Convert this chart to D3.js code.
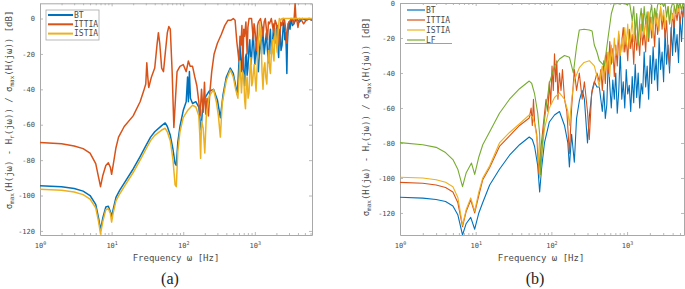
<!DOCTYPE html>
<html><head><meta charset="utf-8">
<script src="https://cdn.jsdelivr.net/npm/d3@7"></script>
<style>body{margin:0;background:#fff}svg{display:block}</style>
</head><body>
<svg id="c" width="685" height="289"></svg>
<script>
// ---------- data ----------
const namesA = ["BT", "ITTIA", "ISTIA"];
const namesB = ["BT", "ITTIA", "ISTIA", "LF"];
const yTickValues = [-120, -100, -80, -60, -40, -20, 0];
const xTickValues = [1, 10, 100, 1000];
const captions = ["(a)", "(b)"];
const xLabel = "Frequency ω [Hz]";

// Panel (a): [frequency Hz, dB]
const btA = [[1,-94.5],[2,-95],[3,-96],[4,-97.5],[5,-100],[6,-105],[6.6,-113],[7,-119.5],[7.5,-113],[8.3,-106.5],[9,-106],[9.6,-109],[10,-112],[10.5,-108],[11.5,-101],[13,-97],[15,-93],[20,-85],[25,-78],[30,-72],[35,-67],[40,-64],[50,-60.5],[56,-59],[60,-61],[66,-66],[72,-74],[77,-82],[80,-83],[84,-70],[90,-61],[100,-52],[110,-47],[115,-33],[118,-47],[122,-30],[126,-45],[135,-48],[150,-47],[165,-50],[172,-58],[178,-63],[185,-52],[200,-45],[230,-41],[265,-40],[300,-46],[330,-56],[360,-43],[400,-33],[454,-28],[500,-31],[540,-38],[570,-43],[600,-25],[620,-15],[650,-30],[680,-18],[700,-33],[720,-38],[740,-22],[760,-20],[780,-32],[800,-28],[830,-16],[850,-12],[880,-26],[900,-22],[930,-12],[950,-8],[980,-20],[1000,-26],[1030,-18],[1050,-14],[1090,-24],[1120,-30],[1160,-18],[1200,-12],[1240,-20],[1280,-5],[1320,-12],[1350,-20],[1400,-14],[1450,-8],[1500,-18],[1550,-25],[1600,-12],[1650,-6],[1700,-20],[1750,-16],[1800,-8],[1850,-3],[1900,-14],[1950,-12],[2000,-6],[2050,-4],[2100,-16],[2150,-22],[2200,-10],[2250,-6],[2320,-18],[2400,-15],[2480,-5],[2550,-2],[2620,-12],[2700,-8],[2750,-18],[2800,-31],[2850,-14],[2900,-8],[3000,-2],[3100,-6],[3200,0],[3350,-4],[3500,-3],[3800,0],[4200,-2],[4600,0],[5200,-1],[5800,0],[6283,-1]];
const ittiaA = [[1,-70],[2,-70.8],[3,-72],[4,-73.5],[5,-76],[6,-82],[6.6,-90],[7,-95],[7.5,-89],[8.3,-83],[9,-81.5],[9.6,-84],[10,-88],[10.5,-83],[11.5,-73],[12.5,-67],[15,-61],[20,-55],[25,-47],[28,-41],[30,-37],[31,-25],[32,-33],[33,-39],[36,-33],[40,-28],[43,-15],[45,-8],[47,-14],[50,-28],[53,-30],[56,-20],[60,-8],[63,-4.5],[66,-6],[70,-30],[74,-61.6],[78,-45],[82,-30],[90,-27],[100,-26],[110,-30],[118,-24],[125,-27],[135,-27],[145,-33],[155,-38],[165,-47],[172,-55],[180,-40],[190,-53],[198,-36],[206,-54],[215,-45],[225,-55],[235,-42],[250,-30],[270,-20],[300,-14],[340,-9],[380,-4],[420,-1],[460,-1],[500,0],[530,-1],[560,-13],[600,-24],[620,-10],[640,-15],[660,-4],[680,-29],[700,-6],[720,-10],[750,-2],[780,-20],[800,-5],[830,0],[900,0],[950,-12],[975,-3],[1000,-6],[1060,-18],[1090,-4],[1120,-2],[1200,0],[1250,-4],[1300,-10],[1350,-2],[1400,0],[1450,-6],[1500,-12],[1550,-2],[1600,-3],[1700,0],[1780,-5],[1850,-8],[1920,-1],[2000,-3],[2100,-8],[2200,-15],[2300,-2],[2400,-4],[2500,0],[2600,-1],[2700,-6],[2800,-14],[2900,-3],[3000,-2],[3300,0],[3500,-3],[3650,8.6],[3750,0],[3900,-2],[4000,-5],[4200,0],[4500,-1],[4800,-3],[5200,-1],[5600,0],[6283,-1]];
const istiaA = [[1,-96.5],[2,-97],[3,-98],[4,-99.5],[5,-102],[6,-107],[6.6,-115],[7,-121.7],[7.5,-115],[8.3,-108],[9,-107.5],[9.6,-110],[10,-115],[10.5,-110],[11.5,-103],[13,-99],[15,-95],[20,-87],[25,-80],[30,-74],[35,-69],[40,-66],[50,-63],[56,-62],[60,-64],[66,-69],[72,-80],[77,-94],[80,-95],[84,-75],[90,-64],[100,-56],[115,-52],[135,-49],[150,-50],[165,-55],[170,-65],[175,-79],[180,-58],[190,-62],[200,-76],[210,-55],[230,-44],[265,-40],[290,-47],[310,-55],[330,-67],[350,-48],[400,-35],[454,-29],[500,-33],[540,-40],[580,-45],[620,-24],[650,-42],[675,-30],[700,-32],[720,-46],[740,-51],[760,-38],[780,-33],[805,-45],[830,-42],[855,-28],[880,-22],[905,-38],[930,-36],[955,-30],[980,-26],[1010,-34],[1040,-41],[1070,-30],[1100,-21],[1130,-12],[1170,-2],[1200,-10],[1230,-16],[1260,-30],[1300,-40],[1340,-28],[1380,-25],[1420,-33],[1470,-37],[1510,-24],[1560,-18],[1600,-27],[1650,-31],[1700,-20],[1750,-12],[1800,-20],[1850,-24],[1900,-10],[1950,-6],[2000,-14],[2050,-19],[2120,-6],[2200,0],[2300,-1],[2400,0],[6283,0]];

// Panel (b): [frequency Hz, dB]
const btB = [[1,-111],[2,-111.5],[3,-112.3],[4,-113.5],[5,-116],[5.8,-121],[6.7,-132.6],[7.5,-126],[8.6,-122.5],[9.7,-129.3],[11,-120],[12.4,-114],[15.3,-104],[20.6,-95],[28,-87],[38,-81],[51,-76.6],[56,-78],[60,-82],[66,-93],[70,-108],[74,-95],[81,-80],[94,-68],[110,-64],[128,-62],[149,-70],[165,-80],[173,-93.7],[185,-75],[201,-91],[215,-66],[234,-56],[255,-50],[273,-55],[300,-80],[317,-65],[345,-50],[369,-45],[400,-48],[430,-48],[450,-55],[471,-62],[493,-50],[516,-66],[540,-58],[565,-32],[591,-47],[619,-60],[648,-44],[678,-55],[709,-40],[742,-63],[777,-50],[813,-28],[851,-55],[890,-45],[932,-60],[975,-38],[1020,-52],[1068,-47],[1117,-62],[1169,-42],[1224,-57],[1281,-35],[1340,-54],[1402,-40],[1468,-60],[1536,-46],[1607,-52],[1682,-28],[1760,-48],[1842,-36],[1928,-55],[2017,-30],[2111,-46],[2209,-25],[2312,-44],[2419,-32],[2532,-50],[2650,-20],[2773,-38],[2902,-28],[3037,-45],[3178,-16],[3326,-35],[3481,-24],[3643,-40],[3812,-14],[3990,-30],[4175,-10],[4369,-28],[4573,-18],[4785,-34],[5008,-8],[5241,-22],[5484,-5],[5650,0]];
const ittiaB = [[1,-102.5],[2,-103],[3,-104],[4,-105.5],[5,-108],[5.8,-114],[6.7,-127.8],[7.5,-119],[8.6,-112.6],[9.7,-120],[11,-110],[12.4,-101],[15.3,-94],[20.6,-82],[28,-76],[38,-70],[51,-65.7],[54,-60],[56,-70],[58,-55],[60,-68],[64,-75],[68,-97],[72,-85],[78,-70],[85,-55],[90,-62],[94,-45],[98,-58],[102,-36],[106,-50],[110,-29],[114,-45],[118,-33],[122,-55],[128,-40],[134,-50],[140,-38],[149,-55],[160,-62],[173,-86],[185,-60],[201,-38],[215,-50],[234,-40],[255,-55],[273,-45],[300,-62],[317,-78],[340,-52],[369,-46],[400,-40],[430,-45],[450,-38],[471,-50],[493,-33],[516,-46],[540,-28],[565,-40],[591,-22],[619,-35],[648,-26],[678,-42],[709,-24],[742,-36],[777,-18],[813,-30],[851,-22],[890,-14],[932,-28],[975,-20],[1020,-33],[1068,-15],[1117,-26],[1169,-18],[1224,-35],[1281,-14],[1340,-27],[1402,-19],[1468,-30],[1536,-12],[1607,-24],[1682,-16],[1760,-28],[1842,-10],[1928,-22],[2017,-8],[2111,-20],[2209,-12],[2312,-25],[2419,-6],[2532,-18],[2650,-10],[2773,-3],[2902,-15],[3037,-7],[3178,-20],[3326,-10],[3481,-28],[3643,-36],[3812,-18],[3990,-6],[4175,-14],[4369,-4],[4573,-10],[4785,-2],[5008,-12],[5241,-4],[5484,-8],[5650,-2]];
const istiaB = [[1,-99.6],[2,-100],[3,-101],[4,-102.5],[5,-105],[5.8,-111],[6.7,-127],[7.5,-118],[8.6,-111.4],[9.7,-119],[11,-108],[12.4,-100],[15.3,-93],[20.6,-80],[28,-74],[38,-69],[51,-64],[56,-65],[60,-69],[66,-80],[70,-100],[74,-88],[81,-72],[94,-60],[110,-54],[128,-51.4],[149,-55],[165,-62],[173,-70],[185,-55],[201,-44],[234,-37],[270,-34],[317,-33],[369,-36],[400,-42],[430,-48],[450,-40],[471,-36],[493,-44],[516,-30],[540,-38],[565,-28],[591,-42],[619,-24],[648,-34],[678,-20],[709,-30],[742,-26],[777,-16],[813,-30],[851,-20],[890,-28],[932,-14],[975,-24],[1020,-12],[1068,-26],[1117,-18],[1169,-10],[1224,-22],[1281,-16],[1340,-8],[1402,-24],[1468,-12],[1536,-20],[1607,-6],[1682,-18],[1760,-10],[1842,-22],[1928,-5],[2017,-15],[2111,-8],[2209,-20],[2312,-3],[2419,-12],[2532,-6],[2650,-16],[2773,-2],[2902,-10],[3037,-4],[3178,-14],[3326,-6],[3481,-2],[3643,-12],[3812,-4],[3990,-9],[4175,-2],[4369,-7],[4573,-1],[4785,-5],[5008,-1],[5241,-4],[5484,-1],[5650,-2]];
const lfB = [[1,-79.8],[2,-81],[3,-82.5],[4,-85.5],[5,-89.5],[5.8,-95],[6.7,-105],[7.5,-97],[8.8,-91.5],[9.7,-98],[11,-88],[12.4,-81],[16,-72],[20.6,-63],[28,-55],[38,-49],[51,-44.6],[55,-46],[60,-52],[66,-63],[70,-75],[72,-98],[76,-80],[81,-67],[94,-46],[110,-36],[128,-32],[149,-30],[173,-31],[195,-40],[215,-25],[234,-15.4],[270,-15],[317,-15.4],[345,-16],[369,-24],[400,-28],[430,-33],[500,-36],[560,-20],[620,-6],[680,0],[800,-0.5],[900,0],[1000,-1],[1080,0],[1117,-4],[1169,-10],[1224,-2],[1281,-18],[1340,-6],[1402,-24],[1468,-10],[1536,-3],[1607,-16],[1682,-2],[1760,-12],[1842,-5],[1928,-20],[2017,-6],[2111,-1],[2209,-12],[2312,-3],[2419,-8],[2532,-1],[2650,0],[2773,-1],[2902,0],[3037,-2],[3178,0],[3326,-8],[3481,-2],[3643,-12],[3812,-3],[3990,0],[4175,-1],[4369,-6],[4573,0],[4785,-2],[5008,0],[5241,-4],[5484,0],[5650,-1]];

const colorBT = "#0072BD", colorITTIA = "#D95319", colorISTIA = "#EDB120", colorLF = "#77AC30";

// ---------- drawing ----------
const svg = d3.select("#c");
const MONO = "'DejaVu Sans Mono', monospace";
const boxColor = "#a8a8a8", textColor = "#4a4a4a";

function minorTicks(x0, x1) {
  const out = [];
  for (let e = 0; e < 4; e++) for (let m = 2; m <= 9; m++) {
    const v = m * Math.pow(10, e);
    if (v > x0 && v < x1) out.push(v);
  }
  return out;
}

function drawPanel(cfg) {
  const x = d3.scaleLog().domain(cfg.xd).range([cfg.l, cfg.r]);
  const y = d3.scaleLinear().domain(cfg.yd).range([cfg.b, cfg.t]);
  const g = svg.append("g");
  const clipId = "clip" + cfg.id;
  svg.append("clipPath").attr("id", clipId).append("rect")
    .attr("x", cfg.l).attr("y", cfg.t).attr("width", cfg.r - cfg.l).attr("height", cfg.b - cfg.t);

  const styleAxis = sel => {
    sel.select(".domain").attr("stroke", boxColor).attr("stroke-width", 1);
    sel.selectAll(".tick line").attr("stroke", boxColor).attr("stroke-width", 0.8);
    sel.selectAll(".tick text").attr("fill", textColor).attr("font-family", MONO).attr("font-size", 7);
  };
  const minors = minorTicks(cfg.xd[0], cfg.xd[1]);

  const gb = g.append("g").attr("transform", `translate(0,${cfg.b})`)
    .call(d3.axisBottom(x).tickValues(xTickValues).tickSize(-3).tickSizeOuter(0).tickPadding(8).tickFormat(() => ""));
  styleAxis(gb);
  gb.selectAll(".tick text").each(function(d) {
    const t = d3.select(this);
    t.text(null);
    t.append("tspan").text("10");
    t.append("tspan").attr("dy", -3).attr("font-size", 5).text(Math.round(Math.log10(d)));
  });
  const gbm = g.append("g").attr("transform", `translate(0,${cfg.b})`)
    .call(d3.axisBottom(x).tickValues(minors).tickSize(-2).tickSizeOuter(0).tickFormat(() => ""));
  styleAxis(gbm); gbm.select(".domain").remove();

  const gt = g.append("g").attr("transform", `translate(0,${cfg.t})`)
    .call(d3.axisTop(x).tickValues(xTickValues).tickSize(-3).tickSizeOuter(0).tickFormat(() => ""));
  styleAxis(gt);
  const gtm = g.append("g").attr("transform", `translate(0,${cfg.t})`)
    .call(d3.axisTop(x).tickValues(minors).tickSize(-2).tickSizeOuter(0).tickFormat(() => ""));
  styleAxis(gtm); gtm.select(".domain").remove();

  const gl = g.append("g").attr("transform", `translate(${cfg.l},0)`)
    .call(d3.axisLeft(y).tickValues(yTickValues).tickSize(-3).tickSizeOuter(0).tickPadding(5).tickFormat(d3.format("d")));
  styleAxis(gl);
  gl.selectAll(".tick text").text(d => d < 0 ? "-" + Math.abs(d) : String(d));
  const gr = g.append("g").attr("transform", `translate(${cfg.r},0)`)
    .call(d3.axisRight(y).tickValues(yTickValues).tickSize(-3).tickSizeOuter(0).tickFormat(() => ""));
  styleAxis(gr);

  const line = d3.line().x(d => x(d[0])).y(d => y(d[1]));
  const lg = g.append("g").attr("clip-path", `url(#${clipId})`);
  cfg.series.forEach(s => {
    lg.append("path").datum(s.data).attr("d", line)
      .attr("fill", "none").attr("stroke", s.color).attr("stroke-width", cfg.lw)
      .attr("stroke-linejoin", "round");
  });

  g.append("text").attr("x", (cfg.l + cfg.r) / 2 + cfg.xlOff).attr("y", 260.5)
    .attr("text-anchor", "middle").attr("font-family", MONO).attr("font-size", 9)
    .attr("fill", textColor).text(xLabel);

  const yl = g.append("text").attr("transform", `translate(${cfg.ylx},${cfg.yly}) rotate(-90)`)
    .attr("text-anchor", "middle").attr("font-family", MONO).attr("font-size", 9).attr("fill", textColor);
  const parts = [["σ", 0], ["max", 1], ["(H(jω) - H", 0], ["r", 1], ["(jω)) / σ", 0], ["max", 1], ["(H(jω)) [dB]", 0]];
  let prevSub = 0;
  parts.forEach(([t, sub]) => {
    const ts = yl.append("tspan").text(t);
    if (sub) ts.attr("font-size", 6);
    const dy = (sub ? 2 : 0) - (prevSub ? 2 : 0);
    if (dy) ts.attr("dy", dy);
    prevSub = sub;
  });

  svg.append("text").attr("x", cfg.capx).attr("y", 284).attr("text-anchor", "middle")
    .attr("font-family", "'Liberation Serif', 'Times New Roman', serif").attr("font-size", 16)
    .attr("fill", "#222").text(cfg.caption);

  const lgd = g.append("g");
  if (cfg.legendBox) {
    lgd.append("rect").attr("x", cfg.legendBox[0]).attr("y", cfg.legendBox[1])
      .attr("width", cfg.legendBox[2]).attr("height", cfg.legendBox[3])
      .attr("fill", "#fff").attr("stroke", boxColor).attr("stroke-width", 0.8);
  }
  if (cfg.legendUnder) {
    lgd.append("line").attr("x1", cfg.legendUnder[0]).attr("x2", cfg.legendUnder[1])
      .attr("y1", cfg.legendUnder[2]).attr("y2", cfg.legendUnder[2])
      .attr("stroke", "#888").attr("stroke-width", 0.8);
  }
  cfg.series.forEach((s, i) => {
    const yy = cfg.legY0 + i * cfg.legDy;
    lgd.append("line").attr("x1", cfg.legX0).attr("x2", cfg.legX1).attr("y1", yy).attr("y2", yy)
      .attr("stroke", s.color).attr("stroke-width", cfg.legLw);
    lgd.append("text").attr("x", cfg.legX1 + 1).attr("y", yy + 2.8)
      .attr("font-family", MONO).attr("font-size", 8).attr("fill", textColor).text(s.name);
  });
}

drawPanel({
  id: "a", l: 40, r: 312, t: 3.3, b: 235, xd: [1, 6283], yd: [-122.3, 8.6], lw: 1.5,
  series: [
    { name: namesA[0], data: btA, color: colorBT },
    { name: namesA[1], data: ittiaA, color: colorITTIA },
    { name: namesA[2], data: istiaA, color: colorISTIA }
  ],
  ylx: 12, yly: 110, xlOff: 0, capx: 170, caption: captions[0],
  legendBox: [46, 10, 53, 30], legX0: 48, legX1: 73, legY0: 15, legDy: 9.3, legLw: 2
});

drawPanel({
  id: "b", l: 400, r: 684, t: 3, b: 235, xd: [1, 5650], yd: [-132.6, 0], lw: 1.1,
  series: [
    { name: namesB[0], data: btB, color: colorBT },
    { name: namesB[1], data: ittiaB, color: colorITTIA },
    { name: namesB[2], data: istiaB, color: colorISTIA },
    { name: namesB[3], data: lfB, color: colorLF }
  ],
  ylx: 369, yly: 117, xlOff: -1, capx: 535, caption: captions[1],
  legendUnder: [405, 452, 43.5], legX0: 407, legX1: 425, legY0: 10, legDy: 10, legLw: 1.2
});
</script>
</body></html>
